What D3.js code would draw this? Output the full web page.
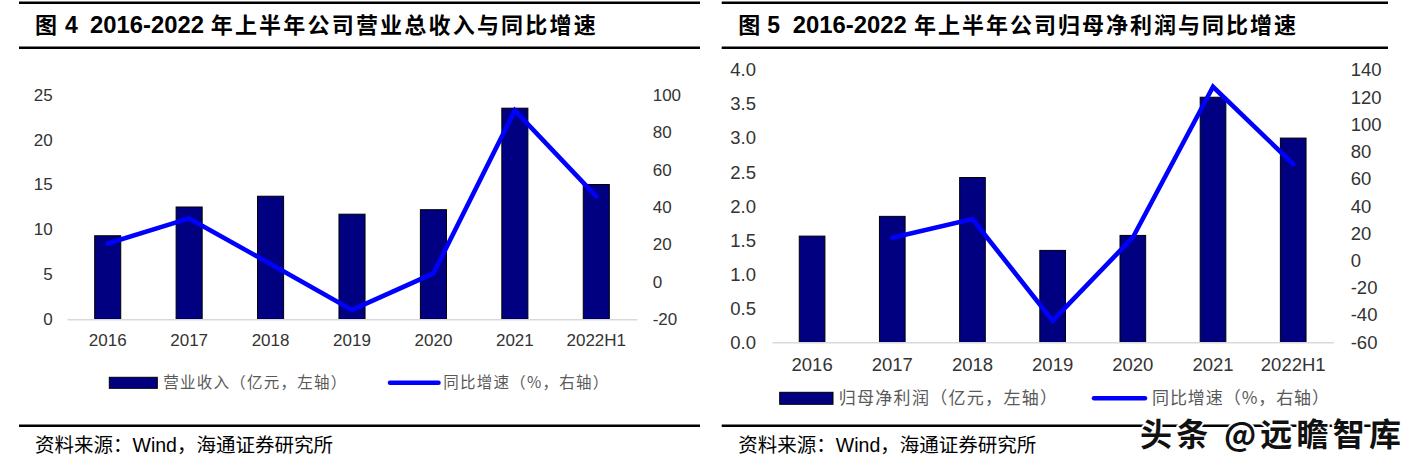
<!DOCTYPE html>
<html>
<head>
<meta charset="utf-8">
<script src="https://cdn.jsdelivr.net/npm/d3@7"></script>
<style>
  html, body { margin: 0; padding: 0; background: #fff; }
  svg { display: block; }
</style>
</head>
<body>
<svg id="chart" width="1414" height="464"></svg>
<script>
// ---------- data ----------
const categories = ["2016", "2017", "2018", "2019", "2020", "2021", "2022H1"];
const revenue = [9.3, 12.5, 13.7, 11.7, 12.2, 23.5, 15.0];          // 亿元
const revenueGrowth = [20.5, 33.9, 9.6, -15.0, 4.5, 91.6, 45.7];    // %
const profit = [1.56, 1.85, 2.42, 1.35, 1.57, 3.60, 3.00];          // 亿元
const profitGrowth = [null, 16.8, 30.5, -44.1, 17.0, 127.7, 70.9];  // %
const revLeftTicks = [0, 5, 10, 15, 20, 25];
const revRightTicks = [-20, 0, 20, 40, 60, 80, 100];
const profLeftTicks = [0, 0.5, 1.0, 1.5, 2.0, 2.5, 3.0, 3.5, 4.0];
const profRightTicks = [-60, -40, -20, 0, 20, 40, 60, 80, 100, 120, 140];

const figLabels = ["图", "图"];
const figNumbers = ["4", "5"];
const titleYears = "2016-2022";
const titleTexts = ["年上半年公司营业总收入与同比增速", "年上半年公司归母净利润与同比增速"];
const barLegends = ["营业收入（亿元，左轴）", "归母净利润（亿元，左轴）"];
const lineLegend = "同比增速（%，右轴）";
const sourceText = "资料来源：Wind，海通证券研究所";
const watermark = "头条 @远瞻智库";

const svg = d3.select("#chart");
const NUM_FONT = "'Liberation Sans', Arial, 'Noto Sans CJK SC', sans-serif";
const CJK_FONT = "'Noto Sans CJK SC', 'Liberation Sans', sans-serif";

function panel(cfg) {
  const g = svg.append("g");
  // rules
  [cfg.ruleTop, cfg.ruleTitle, cfg.ruleSource].forEach(y => {
    g.append("line").attr("x1", cfg.ruleX0).attr("x2", cfg.ruleX1)
      .attr("y1", y).attr("y2", y).attr("stroke", "#000").attr("stroke-width", 2.4);
  });
  // title (pieces)
  const tg = g.append("g").attr("font-weight", "bold").attr("fill", "#000");
  tg.append("text").attr("x", cfg.titleX).attr("y", 25).attr("dy", "0.36em")
    .attr("font-family", CJK_FONT).attr("font-size", 22).text(cfg.fig);
  tg.append("text").attr("x", cfg.titleX + cfg.numOff).attr("y", 25).attr("dy", "0.36em")
    .attr("font-family", NUM_FONT).attr("font-size", 23).text(cfg.num);
  tg.append("text").attr("x", cfg.titleX + cfg.yearOff).attr("y", 25).attr("dy", "0.36em")
    .attr("font-family", NUM_FONT).attr("font-size", 23)
    .attr("textLength", 114).attr("lengthAdjust", "spacingAndGlyphs").text(titleYears);
  tg.append("text").attr("x", cfg.titleX + cfg.cjkOff).attr("y", 25).attr("dy", "0.36em")
    .attr("font-family", CJK_FONT).attr("font-size", 22)
    .attr("textLength", cfg.cjkLen).attr("lengthAdjust", "spacing").text(cfg.titleText);

  const x = d3.scaleBand().domain(categories).range([cfg.x0, cfg.x1])
    .paddingInner(0.68).paddingOuter(0.34);
  const yL = d3.scaleLinear().domain(cfg.leftDomain).range([cfg.yBase, cfg.yTop]);
  const yR = d3.scaleLinear().domain(cfg.rightDomain).range([cfg.yBase, cfg.yTop]);

  // bars
  g.append("g").selectAll("rect").data(cfg.bars).join("rect")
    .attr("x", (d, i) => x(categories[i]))
    .attr("width", x.bandwidth())
    .attr("y", d => yL(d))
    .attr("height", d => yL(0) - yL(d))
    .attr("fill", "#000080").attr("stroke", "#000").attr("stroke-width", 1);

  // x axis
  const xa = g.append("g").attr("transform", `translate(0,${cfg.yBase})`)
    .call(d3.axisBottom(x).tickSize(0).tickSizeOuter(0));
  xa.select(".domain").attr("stroke", "#d9d9d9").attr("stroke-width", 1.5);
  xa.selectAll("text").attr("y", cfg.xLabelOff).attr("dy", "0.35em")
    .attr("font-family", NUM_FONT).attr("font-size", cfg.fs).attr("fill", "#333");

  // left axis
  const la = g.append("g").attr("transform", `translate(${cfg.x0},0)`)
    .call(d3.axisLeft(yL).tickValues(cfg.leftTicks).tickSize(0).tickPadding(cfg.lPad)
      .tickFormat(cfg.leftFmt));
  la.select(".domain").remove();
  la.selectAll("text").attr("font-family", NUM_FONT).attr("font-size", cfg.fs).attr("fill", "#333");

  // right axis
  const ra = g.append("g").attr("transform", `translate(${cfg.x1},0)`)
    .call(d3.axisRight(yR).tickValues(cfg.rightTicks).tickSize(0).tickPadding(cfg.rPad)
      .tickFormat(d => String(d)));
  ra.select(".domain").remove();
  ra.selectAll("text").attr("font-family", NUM_FONT).attr("font-size", cfg.fs).attr("fill", "#333");

  // line
  const line = d3.line()
    .defined(d => d != null)
    .x((d, i) => x(categories[i]) + x.bandwidth() / 2)
    .y(d => yR(d));
  g.append("path").datum(cfg.line).attr("d", line)
    .attr("fill", "none").attr("stroke", "#0000ff").attr("stroke-width", 4.6)
    .attr("stroke-linejoin", "miter").attr("stroke-linecap", "round");

  // legend
  const lg = g.append("g");
  lg.append("rect").attr("x", cfg.lgBarX).attr("y", cfg.lgY - cfg.lgH / 2)
    .attr("width", cfg.lgBarW).attr("height", cfg.lgH)
    .attr("fill", "#000080").attr("stroke", "#000").attr("stroke-width", 1);
  lg.append("text").attr("x", cfg.lgBarTextX).attr("y", cfg.lgY).attr("dy", "0.36em")
    .attr("font-family", CJK_FONT).attr("font-size", cfg.lgFs).attr("fill", "#595959")
    .attr("textLength", cfg.lgBarTextLen).attr("lengthAdjust", "spacing")
    .text(cfg.barLegend);
  lg.append("line").attr("x1", cfg.lgLineX0).attr("x2", cfg.lgLineX1)
    .attr("y1", cfg.lgY).attr("y2", cfg.lgY)
    .attr("stroke", "#0000ff").attr("stroke-width", 4.5).attr("stroke-linecap", "round");
  lg.append("text").attr("x", cfg.lgLineTextX).attr("y", cfg.lgY).attr("dy", "0.36em")
    .attr("font-family", CJK_FONT).attr("font-size", cfg.lgFs).attr("fill", "#595959")
    .attr("textLength", cfg.lgLineTextLen).attr("lengthAdjust", "spacing")
    .text(lineLegend);

  // source
  g.append("text").attr("x", cfg.titleX).attr("y", 445).attr("dy", "0.36em")
    .attr("font-family", NUM_FONT).attr("font-size", 19.5).attr("fill", "#000")
    .text(sourceText);
}

panel({
  ruleX0: 19, ruleX1: 700, ruleTop: 2.8, ruleTitle: 47.8, ruleSource: 425.7,
  titleX: 35, fig: figLabels[0], num: figNumbers[0], titleText: titleTexts[0],
  numOff: 30, yearOff: 55, cjkOff: 175.7, cjkLen: 385,
  x0: 67, x1: 637, yBase: 319.3, yTop: 94.7,
  leftDomain: [0, 25], rightDomain: [-20, 100],
  leftTicks: revLeftTicks, rightTicks: revRightTicks, leftFmt: d => String(d),
  bars: revenue, line: revenueGrowth,
  fs: 17, xLabelOff: 20.4, lPad: 14.3, rPad: 15.7,
  lgY: 382.8, lgH: 11, lgBarX: 109.3, lgBarW: 48, lgBarTextX: 163.3, lgBarTextLen: 183,
  lgLineX0: 390, lgLineX1: 438.5, lgLineTextX: 443.3, lgLineTextLen: 165,
  lgFs: 15.5, barLegend: barLegends[0]
});

panel({
  ruleX0: 721.7, ruleX1: 1388, ruleTop: 2.8, ruleTitle: 47.8, ruleSource: 425.7,
  titleX: 738.3, fig: figLabels[1], num: figNumbers[1], titleText: titleTexts[1],
  numOff: 29, yearOff: 54.5, cjkOff: 175.7, cjkLen: 382,
  x0: 772, x1: 1333.3, yBase: 342.3, yTop: 70,
  leftDomain: [0, 4], rightDomain: [-60, 140],
  leftTicks: profLeftTicks, rightTicks: profRightTicks, leftFmt: d => d.toFixed(1),
  bars: profit, line: profitGrowth,
  fs: 18.5, xLabelOff: 22.5, lPad: 16, rPad: 17.4,
  lgY: 398.3, lgH: 12, lgBarX: 779.7, lgBarW: 53.3, lgBarTextX: 838.7, lgBarTextLen: 218.3,
  lgLineX0: 1094, lgLineX1: 1145, lgLineTextX: 1152, lgLineTextLen: 177,
  lgFs: 17, barLegend: barLegends[1]
});

// watermark
svg.append("text").attr("x", 1140).attr("y", 446)
  .attr("font-family", CJK_FONT).attr("font-size", 32).attr("font-weight", "bold")
  .attr("textLength", 261).attr("lengthAdjust", "spacing")
  .attr("fill", "#111").attr("stroke", "#fff").attr("stroke-width", 4)
  .attr("paint-order", "stroke").attr("stroke-linejoin", "round")
  .text(watermark);
</script>
</body>
</html>
